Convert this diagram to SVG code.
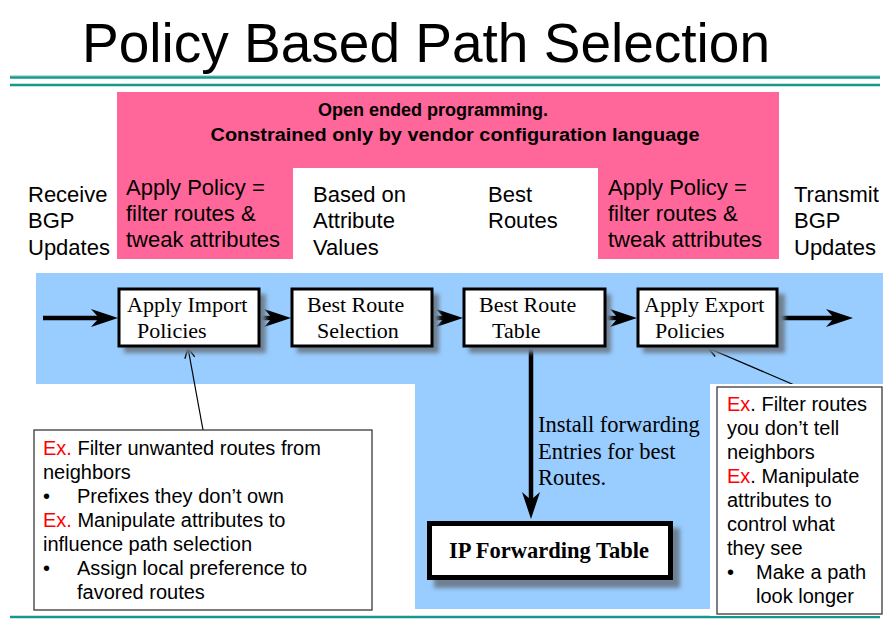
<svg xmlns="http://www.w3.org/2000/svg" width="892" height="624" viewBox="0 0 892 624">
  <style>
    .sans { font-family: "Liberation Sans", Arial, sans-serif; fill: #000; }
    .serif { font-family: "Liberation Serif", "Times New Roman", serif; fill: #000; }
    .lbl { font-size: 22px; }
    .note { font-size: 20px; }
    .red { fill: #ff0000; }
    .box { fill: #fff; stroke: #000; stroke-width: 3; }
    .shadow { fill: #6f8092; filter: url(#blur); }
    .teal { stroke: #17978f; stroke-width: 2.5; }
    .flow { stroke: #000; stroke-width: 4.5; fill: none; }
    .thin { stroke: #000; stroke-width: 1.2; fill: none; }
    .callout { fill: #fff; stroke: #3a3a3a; stroke-width: 1.3; }
  </style>
  <defs>
    <filter id="blur" x="-20%" y="-20%" width="140%" height="140%">
      <feGaussianBlur stdDeviation="2"/>
    </filter>
    <!-- notched arrowhead; the line stops 14px short of the tip -->
    <marker id="bold" markerUnits="userSpaceOnUse" viewBox="0 0 27 18" refX="13" refY="9" markerWidth="27" markerHeight="18" orient="auto">
      <path d="M0,0 L27,9 L0,18 L8,9 Z" fill="#000"/>
    </marker>
    <marker id="open" markerUnits="userSpaceOnUse" viewBox="0 0 12 12" refX="11" refY="6" markerWidth="12" markerHeight="12" orient="auto">
      <path d="M1,1 L11,6 L1,11" fill="none" stroke="#000" stroke-width="1.3"/>
    </marker>
  </defs>

  <rect width="892" height="624" fill="#fff"/>

  <!-- title and rules -->
  <text class="sans" x="82" y="62" font-size="56" textLength="688" lengthAdjust="spacingAndGlyphs">Policy Based Path Selection</text>
  <line x1="10" y1="75.8" x2="880" y2="75.8" stroke="#8fd6d6" stroke-width="1"/>
  <line class="teal" x1="10" y1="77.5" x2="880" y2="77.5"/>
  <line class="teal" x1="10" y1="85" x2="880" y2="85"/>
  <line class="teal" x1="10" y1="617" x2="880" y2="617"/>

  <!-- pink policy band -->
  <g id="policy-band">
    <path d="M117,92 H779 V259 H598 V168 H293 V259 H117 Z" fill="#ff6699"/>
    <text class="sans" x="433" y="116" font-size="18" font-weight="bold" text-anchor="middle">Open ended programming.</text>
    <text class="sans" x="455" y="141" font-size="18" font-weight="bold" text-anchor="middle" textLength="489" lengthAdjust="spacingAndGlyphs">Constrained only by vendor configuration language</text>
  </g>

  <!-- blue process band -->
  <path d="M36,273 H883 V609 H415 V384 H36 Z" fill="#99ccff"/>

  <!-- stage captions -->
  <g id="cap-receive" class="sans lbl">
    <text x="28" y="202">Receive</text>
    <text x="28" y="228">BGP</text>
    <text x="28" y="255">Updates</text>
  </g>
  <g id="cap-import" class="sans lbl">
    <text x="126" y="195">Apply Policy =</text>
    <text x="126" y="221">filter routes &amp;</text>
    <text x="126" y="247">tweak attributes</text>
  </g>
  <g id="cap-based" class="sans lbl">
    <text x="313" y="202">Based on</text>
    <text x="313" y="228">Attribute</text>
    <text x="313" y="255">Values</text>
  </g>
  <g id="cap-best" class="sans lbl">
    <text x="488" y="202">Best</text>
    <text x="488" y="228">Routes</text>
  </g>
  <g id="cap-export" class="sans lbl">
    <text x="608" y="195">Apply Policy =</text>
    <text x="608" y="221">filter routes &amp;</text>
    <text x="608" y="247">tweak attributes</text>
  </g>
  <g id="cap-transmit" class="sans lbl">
    <text x="794" y="202">Transmit</text>
    <text x="794" y="228">BGP</text>
    <text x="794" y="255">Updates</text>
  </g>

  <!-- connectors -->
  <g id="connectors">
    <line class="flow" x1="43" y1="318" x2="104" y2="318" marker-end="url(#bold)"/>
    <line class="flow" x1="260" y1="318" x2="277" y2="318" marker-end="url(#bold)"/>
    <line class="flow" x1="433" y1="318" x2="449" y2="318" marker-end="url(#bold)"/>
    <line class="flow" x1="606" y1="318" x2="623" y2="318" marker-end="url(#bold)"/>
    <line class="flow" x1="778" y1="318" x2="839" y2="318" marker-end="url(#bold)"/>
    <line class="flow" x1="531" y1="347" x2="531" y2="505" marker-end="url(#bold)"/>
    <line class="thin" x1="203" y1="430" x2="188" y2="348" marker-end="url(#open)"/>
    <line class="thin" x1="799" y1="387" x2="708" y2="348" marker-end="url(#open)"/>
  </g>

  <!-- process boxes -->
  <g id="import-policies">
    <rect class="shadow" x="124" y="294" width="142" height="59"/>
    <rect class="box" x="119" y="289" width="140" height="57"/>
    <text class="serif lbl" x="127" y="312">Apply Import</text>
    <text class="serif lbl" x="137" y="338">Policies</text>
  </g>
  <g id="best-route-selection">
    <rect class="shadow" x="297" y="294" width="142" height="59"/>
    <rect class="box" x="292" y="289" width="140" height="57"/>
    <text class="serif lbl" x="307" y="312">Best Route</text>
    <text class="serif lbl" x="317" y="338">Selection</text>
  </g>
  <g id="best-route-table">
    <rect class="shadow" x="469" y="294" width="142" height="59"/>
    <rect class="box" x="464" y="289" width="141" height="57"/>
    <text class="serif lbl" x="479" y="312">Best Route</text>
    <text class="serif lbl" x="492" y="338">Table</text>
  </g>
  <g id="export-policies">
    <rect class="shadow" x="643" y="294" width="142" height="59"/>
    <rect class="box" x="638" y="289" width="139" height="57"/>
    <text class="serif lbl" x="644" y="312">Apply Export</text>
    <text class="serif lbl" x="655" y="338">Policies</text>
  </g>

  <g id="install-label" class="serif" font-size="22.5">
    <text x="538" y="432">Install forwarding</text>
    <text x="538" y="459">Entries for best</text>
    <text x="538" y="485">Routes.</text>
  </g>

  <g id="ip-forwarding-table">
    <rect class="shadow" x="434" y="528" width="246" height="60"/>
    <rect x="429.5" y="523.5" width="241" height="54" fill="#fff" stroke="#000" stroke-width="5"/>
    <text class="serif" x="549" y="558" font-size="22.5" font-weight="bold" text-anchor="middle">IP Forwarding Table</text>
  </g>

  <!-- callout notes -->
  <g id="import-examples" class="sans note">
    <rect class="callout" x="34" y="430" width="338" height="180"/>
    <text x="43" y="455"><tspan class="red">Ex.</tspan> Filter unwanted routes from</text>
    <text x="43" y="479">neighbors</text>
    <text x="43" y="503">•</text>
    <text x="77" y="503">Prefixes they don’t own</text>
    <text x="43" y="527"><tspan class="red">Ex.</tspan> Manipulate attributes to</text>
    <text x="43" y="551">influence path selection</text>
    <text x="43" y="575">•</text>
    <text x="77" y="575">Assign local preference to</text>
    <text x="77" y="599">favored routes</text>
  </g>
  <g id="export-examples" class="sans note">
    <rect x="710" y="384" width="174" height="232" fill="#fff"/>
    <rect class="callout" x="717" y="387" width="165" height="227"/>
    <text x="727" y="411"><tspan class="red">Ex</tspan>. Filter routes</text>
    <text x="727" y="435">you don’t tell</text>
    <text x="727" y="459">neighbors</text>
    <text x="727" y="483"><tspan class="red">Ex</tspan>. Manipulate</text>
    <text x="727" y="507">attributes to</text>
    <text x="727" y="531">control what</text>
    <text x="727" y="555">they see</text>
    <text x="727" y="579">•</text>
    <text x="756" y="579">Make a path</text>
    <text x="756" y="603">look longer</text>
  </g>
</svg>
